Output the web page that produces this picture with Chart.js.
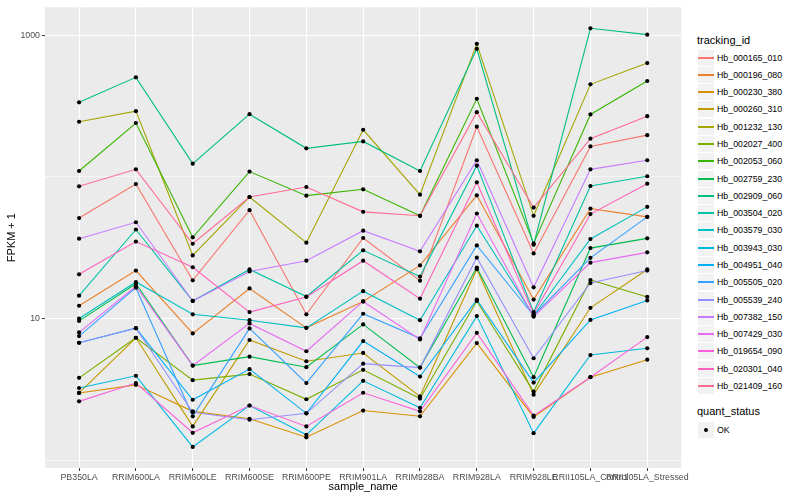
<!DOCTYPE html>
<html>
<head>
<meta charset="utf-8">
<title>FPKM + 1 by sample_name</title>
<script src="https://cdn.jsdelivr.net/npm/chart.js@4.4.1/dist/chart.umd.min.js"></script>
<style>
    body { margin: 0; background: #fff; font-family: "Liberation Sans", Arial, sans-serif; }
    #wrap { position: relative; width: 800px; height: 500px; overflow: hidden; }
    #chart { position: absolute; left: 0; top: 0; }
    .leg-title { position: absolute; left: 697px; font-size: 11px; color: #000; line-height: 13px; }
    .leg-row { position: absolute; left: 697px; height: 17px; width: 100px; }
    .leg-key { position: absolute; left: 0; top: 0; width: 16px; height: 16px; background: #F2F2F2; border: 1px solid #fff; }
    .leg-line { position: absolute; left: 0; right: 0; top: 7px; height: 2px; }
    .leg-dot { position: absolute; left: 6px; top: 6px; width: 4px; height: 4px; border-radius: 50%; background: #000; }
    .leg-text { position: absolute; left: 20px; top: 0; line-height: 18px; font-size: 8.8px; color: #000; white-space: nowrap; }
</style>
</head>
<body>
<div id="wrap">
    <canvas id="chart" width="690" height="500"></canvas>
    <div id="legend"></div>
</div>
<script>
// categories
const sampleNames = ["PB350LA", "RRIM600LA", "RRIM600LE", "RRIM600SE", "RRIM600PE", "RRIM901LA",
    "RRIM928BA", "RRIM928LA", "RRIM928LE", "RRII105LA_Control", "RRII105LA_Stressed"];

const trackingIds = ["Hb_000165_010", "Hb_000196_080", "Hb_000230_380", "Hb_000260_310", "Hb_001232_130",
    "Hb_002027_400", "Hb_002053_060", "Hb_002759_230", "Hb_002909_060", "Hb_003504_020",
    "Hb_003579_030", "Hb_003943_030", "Hb_004951_040", "Hb_005505_020", "Hb_005539_240",
    "Hb_007382_150", "Hb_007429_030", "Hb_019654_090", "Hb_020301_040", "Hb_021409_160"];

// FPKM + 1, one array per tracking_id (same order as sampleNames)
const hb_000165_010 = [51.2, 89.0, 18.6, 58.2, 10.7, 37.0, 18.5, 226, 28.8, 164, 197];
const hb_000196_080 = [12.3, 21.8, 7.85, 16.3, 8.59, 13.2, 23.7, 74.1, 13.6, 59.7, 52.2];
const hb_000230_380 = [2.98, 3.40, 2.21, 1.96, 1.45, 2.24, 2.04, 6.71, 2.02, 3.85, 5.12];
const hb_000260_310 = [2.98, 7.31, 1.73, 7.05, 4.99, 5.71, 2.82, 22.3, 2.90, 11.9, 22.2];
const hb_001232_130 = [245, 291, 27.9, 72.1, 34.3, 215, 74.9, 869, 53.1, 450, 636];
const hb_002027_400 = [3.81, 7.31, 3.67, 4.05, 2.69, 4.34, 2.72, 13.3, 3.05, 18.7, 14.2];
const hb_002053_060 = [110, 240, 37.4, 109, 73.7, 81.7, 53.1, 356, 33.9, 276, 475];
const hb_002759_230 = [9.62, 17.6, 4.65, 5.38, 4.53, 9.08, 4.50, 22.9, 3.85, 31.4, 36.8];
const hb_002909_060 = [336, 504, 124, 277, 159, 178, 110, 801, 33.2, 1119, 1009];
const hb_003504_020 = [14.5, 42.5, 13.3, 22.2, 14.3, 30.3, 19.8, 120, 11.1, 86.2, 101];
const hb_003579_030 = [10.0, 18.1, 10.7, 9.73, 8.59, 15.6, 9.73, 45.2, 10.5, 36.4, 61.4];
const hb_003943_030 = [3.23, 3.94, 1.24, 2.43, 1.51, 3.63, 2.34, 10.4, 1.55, 5.52, 6.16];
const hb_004951_040 = [6.74, 8.55, 2.67, 4.39, 2.14, 6.93, 3.89, 13.6, 3.53, 9.77, 13.4];
const hb_005505_020 = [7.51, 16.5, 2.04, 8.51, 3.50, 10.8, 7.24, 32.8, 10.5, 26.8, 52.2];
const hb_005539_240 = [6.74, 8.55, 2.18, 1.93, 2.14, 4.80, 4.50, 26.9, 5.24, 17.8, 21.8];
const hb_007382_150 = [36.6, 47.8, 13.3, 21.5, 25.6, 41.7, 29.8, 131, 16.6, 113, 131];
const hb_007429_030 = [7.98, 16.9, 4.65, 9.23, 5.87, 13.2, 7.12, 55.1, 10.3, 24.8, 29.3];
const hb_019654_090 = [2.60, 3.50, 1.56, 2.43, 1.73, 2.99, 2.21, 7.92, 2.06, 3.85, 7.39];
const hb_020301_040 = [20.5, 34.9, 23.0, 11.1, 14.2, 25.6, 13.8, 91.5, 10.8, 54.6, 89.5];
const hb_021409_160 = [85.8, 113, 33.7, 72.1, 84.8, 56.6, 53.1, 286, 60.7, 186, 268];

const seriesValues = [hb_000165_010, hb_000196_080, hb_000230_380, hb_000260_310, hb_001232_130,
    hb_002027_400, hb_002053_060, hb_002759_230, hb_002909_060, hb_003504_020,
    hb_003579_030, hb_003943_030, hb_004951_040, hb_005505_020, hb_005539_240,
    hb_007382_150, hb_007429_030, hb_019654_090, hb_020301_040, hb_021409_160];

const quantStatus = ["OK"];

// y axis ticks (log10)
const yTicks = [1, 10, 100, 1000];
const yTickLabels = ["", "10", "", "1000"];

// ggplot default hue palette for 20 groups
const colors = ["#F8766D", "#EA8331", "#D89000", "#C09B00", "#A3A500", "#7CAE00", "#39B600", "#00BB4E",
    "#00BF7D", "#00C1A3", "#00BFC4", "#00BAE0", "#00B0F6", "#35A2FF", "#9590FF", "#C77CFF",
    "#E76BF3", "#FA62DB", "#FF62BC", "#FF6C91"];


document.addEventListener("DOMContentLoaded", () => {

    // grey panel behind the grid
    const panelBg = {
        id: "panelBg",
        beforeDraw(chart) {
            const a = chart.chartArea;
            const c = chart.ctx;
            c.save();
            c.fillStyle = "#EBEBEB";
            c.fillRect(a.left, a.top, a.right - a.left, a.bottom - a.top);
            c.restore();
        }
    };

    const datasets = seriesValues.map((vals, i) => ({
        label: trackingIds[i],
        data: vals.map((v, j) => ({ x: j, y: v })),
        showLine: true,
        borderColor: colors[i],
        backgroundColor: colors[i],
        borderWidth: 1.1,
        pointRadius: 0,
        order: seriesValues.length - i
    }));

    // all points on top, in black
    const allPoints = [];
    seriesValues.forEach(vals => vals.forEach((v, j) => allPoints.push({ x: j, y: v })));
    datasets.push({
        label: "OK",
        data: allPoints,
        showLine: false,
        pointRadius: 2.1,
        pointBorderWidth: 0,
        pointBackgroundColor: "#000",
        order: -1
    });

    const ctx = document.getElementById("chart").getContext("2d");
    new Chart(ctx, {
        type: "scatter",
        data: { datasets: datasets },
        options: {
            responsive: false,
            animation: false,
            layout: { padding: { top: 5, right: 8, left: 0, bottom: 0 } },
            plugins: {
                legend: { display: false },
                tooltip: { enabled: false }
            },
            scales: {
                x: {
                    type: "linear",
                    min: -0.6,
                    max: sampleNames.length - 0.4,
                    afterBuildTicks: s => { s.ticks = sampleNames.map((n, i) => ({ value: i })); },
                    afterFit: s => { s.height = 32; },
                    ticks: {
                        callback: v => sampleNames[v],
                        autoSkip: false,
                        maxRotation: 0,
                        minRotation: 0,
                        color: "#4D4D4D",
                        font: { family: "Liberation Sans", size: 8.8 },
                        padding: 1
                    },
                    grid: { color: "#FFFFFF", lineWidth: 1.1, tickLength: 3, tickColor: "#333333", tickWidth: 1 },
                    border: { display: false },
                    title: {
                        display: true,
                        text: "sample_name",
                        color: "#000",
                        font: { family: "Liberation Sans", size: 11 },
                        padding: { top: 0, bottom: 6 }
                    }
                },
                y: {
                    type: "logarithmic",
                    min: 0.88,
                    max: 1575,
                    afterBuildTicks: s => { s.ticks = yTicks.map(v => ({ value: v })); },
                    afterFit: s => { s.width = 45; },
                    ticks: {
                        callback: v => yTickLabels[yTicks.indexOf(v)],
                        color: "#4D4D4D",
                        font: { family: "Liberation Sans", size: 8.8 },
                        padding: 2
                    },
                    grid: {
                        color: "#FFFFFF",
                        lineWidth: c => (c.tick && yTickLabels[yTicks.indexOf(c.tick.value)] !== "") ? 1.1 : 0.55,
                        tickLength: 3,
                        tickWidth: 1,
                        tickColor: c => (c.tick && yTickLabels[yTicks.indexOf(c.tick.value)] !== "") ? "#333333" : "rgba(0,0,0,0)"
                    },
                    border: { display: false },
                    title: {
                        display: true,
                        text: "FPKM + 1",
                        color: "#000",
                        font: { family: "Liberation Sans", size: 11 },
                        padding: { top: 5, bottom: 0 }
                    }
                }
            }
        },
        plugins: [panelBg]
    });

    // legends (tracking_id and quant_status), rows snapped to whole pixels
    const legend = document.getElementById("legend");
    let html = '<div class="leg-title" style="top:34px">tracking_id</div>';
    trackingIds.forEach((id, i) => {
        const top = Math.round(48.6 + i * 17.28);
        html += '<div class="leg-row" style="top:' + top + 'px">' +
            '<div class="leg-key"><div class="leg-line" style="background:' + colors[i] + '"></div></div>' +
            '<div class="leg-text">' + id + '</div></div>';
    });
    html += '<div class="leg-title" style="top:405px">quant_status</div>';
    quantStatus.forEach((q, i) => {
        const top = Math.round(421.4 + i * 17.28);
        html += '<div class="leg-row" style="top:' + top + 'px">' +
            '<div class="leg-key"><div class="leg-dot"></div></div>' +
            '<div class="leg-text">' + q + '</div></div>';
    });
    legend.innerHTML = html;
});
</script>
</body>
</html>
